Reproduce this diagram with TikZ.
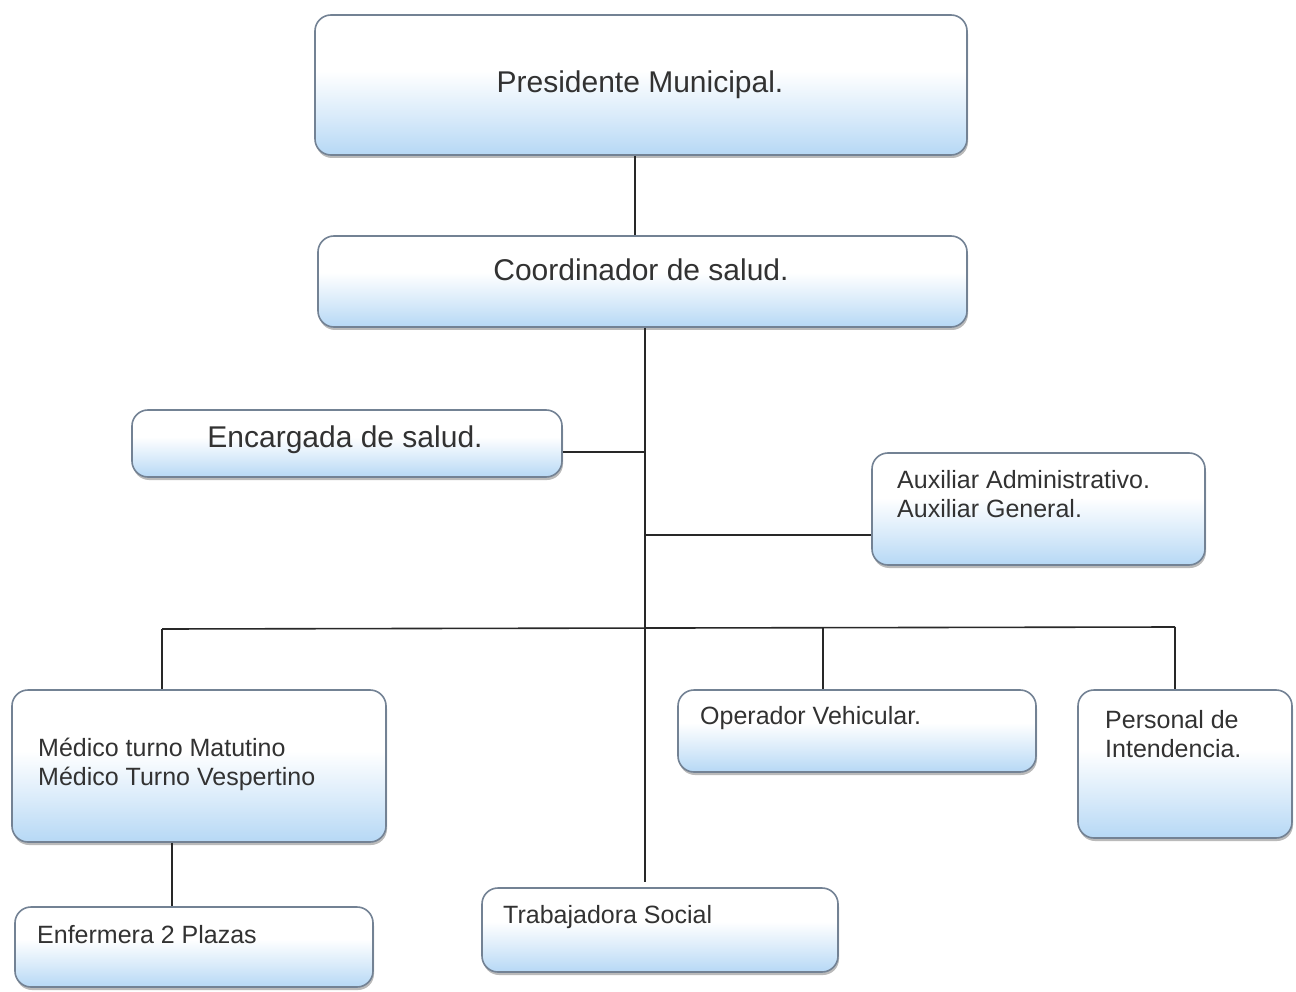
\documentclass[tikz,border=0pt]{standalone}
\usepackage{fontspec}
\setmainfont{Liberation Sans}
\usetikzlibrary{shadows}
\definecolor{boxblue}{RGB}{182,216,245}
\definecolor{boxline}{RGB}{115,130,148}
\definecolor{txt}{RGB}{50,50,50}
\definecolor{conn}{RGB}{40,40,40}
\pgfdeclareverticalshading{boxshade}{100bp}{color(0bp)=(boxblue); color(25bp)=(boxblue); color(38bp)=(boxblue!55!white); color(55bp)=(white); color(100bp)=(white)}
\tikzset{
  orgbox/.style={draw=boxline, line width=1.6pt, rounded corners=16pt, shading=boxshade, inner sep=0pt,
    drop shadow={shadow xshift=1pt, shadow yshift=-3pt, fill=black!60, opacity=0.45}},
  bigtxt/.style={text=txt, font=\fontsize{30}{36}\selectfont, inner sep=0pt},
  smalltxt/.style={text=txt, font=\fontsize{25}{29}\selectfont, inner sep=0pt, align=left},
  link/.style={draw=conn, line width=1.6pt}
}
\begin{document}
\begin{tikzpicture}[x=1pt,y=-1pt]
\useasboundingbox (0,0) rectangle (1296,992);
\fill[white] (0,0) rectangle (1296,992);

% boxes
\node[orgbox, minimum width=652pt, minimum height=140pt] (pres) at (641,85) {};
\node[orgbox, minimum width=649pt, minimum height=91pt] (coord) at (642.5,281.5) {};
\node[orgbox, minimum width=430pt, minimum height=67pt] (enc) at (347,443.5) {};
\node[orgbox, minimum width=333pt, minimum height=112pt] (aux) at (1038.5,509) {};
\node[orgbox, minimum width=374pt, minimum height=152pt] (med) at (199,766) {};
\node[orgbox, minimum width=358pt, minimum height=80pt] (enf) at (194,947) {};
\node[orgbox, minimum width=356pt, minimum height=84pt] (trab) at (660,930) {};
\node[orgbox, minimum width=358pt, minimum height=82pt] (oper) at (857,731) {};
\node[orgbox, minimum width=214pt, minimum height=148pt] (pers) at (1185,764) {};

% texts
\node[bigtxt] (pres-t) at (640,85) {Presidente Municipal.};
\node[bigtxt] (coord-t) at (641,270) {Coordinador de salud.};
\node[bigtxt] (enc-t) at (345,440) {Encargada de salud.};
\node[smalltxt, anchor=north west] (aux-t) at (897,470) {Auxiliar Administrativo.\\Auxiliar General.};
\node[smalltxt, anchor=north west] (med-t) at (38,738) {Médico turno Matutino\\Médico Turno Vespertino};
\node[smalltxt, anchor=west] (enf-t) at (37,935) {Enfermera 2 Plazas};
\node[smalltxt, anchor=west] (trab-t) at (503,917) {Trabajadora Social};
\node[smalltxt, anchor=west] (oper-t) at (700,718) {Operador Vehicular.};
\node[smalltxt, anchor=north west] (pers-t) at (1105,710) {Personal de\\Intendencia.};

% junction coordinates
\coordinate (topx) at (635,0);
\coordinate (tend) at (645,882);
\coordinate (encj) at (645,452);
\coordinate (auxj) at (645,535);
\coordinate (barL) at (162,629);
\coordinate (barR) at (1175,627);
\coordinate (operj) at (823,628);
\coordinate (medx) at (172,0);

% connectors
\draw[link] (pres.south -| topx) -- (coord.north -| topx);
\draw[link] (coord.south -| tend) -- (tend);
\draw[link] (enc.east |- encj) -- (encj);
\draw[link] (auxj) -- (aux.west |- auxj);
\draw[link] (barL) -- (barR);
\draw[link] (barL) -- (med.north -| barL);
\draw[link] (operj) -- (oper.north -| operj);
\draw[link] (barR) -- (pers.north -| barR);
\draw[link] (med.south -| medx) -- (enf.north -| medx);
\end{tikzpicture}
\end{document}
